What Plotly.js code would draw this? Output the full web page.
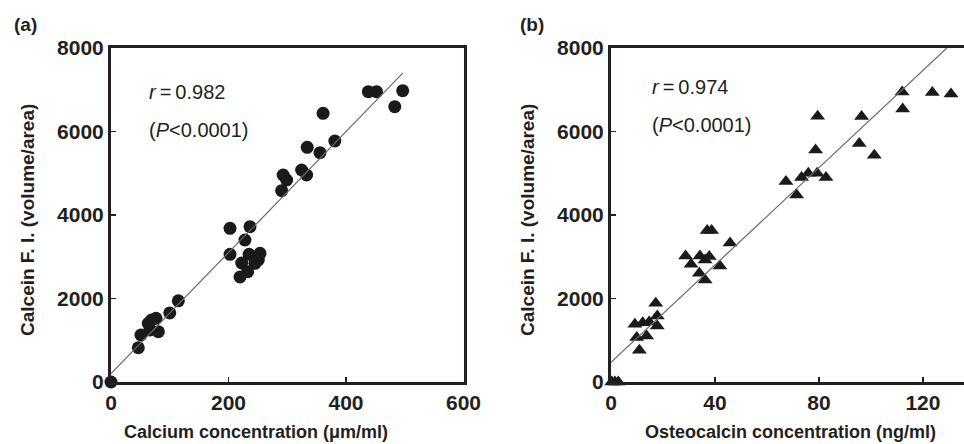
<!DOCTYPE html>
<html>
<head>
<meta charset="utf-8">
<script src="https://cdn.plot.ly/plotly-3.0.1.min.js"></script>
<style>html,body{margin:0;padding:0;background:#fff;}#chart{width:964px;height:444px;}</style>
</head>
<body>
<div id="chart"></div>
<script>
// Panel (a): calcium concentration vs calcein F.I.
const calciumX = [0, 46.5, 51, 63.5, 69, 76.6, 66.4, 80.6, 100, 114.6,
  202.6, 236.6, 228, 202.6, 235, 222.4, 253.6, 250.7, 245, 232.6, 219.6,
  290.5, 293, 299, 324.5, 333, 334, 355.7, 361, 381, 438, 452, 496.5, 483];
const calceinA = [0, 820, 1126, 1406, 1485, 1525, 1245, 1206, 1655, 1945,
  3681, 3720, 3401, 3058, 3058, 2850, 3082, 2922, 2842, 2642, 2515,
  4582, 4958, 4838, 5078, 4958, 5621, 5493, 6435, 5772, 6954, 6954, 6977, 6595];

// Panel (b): osteocalcin concentration vs calcein F.I.
const osteoX = [0.3, 1.5, 2.8, 10.9, 9.9, 13.7, 9.2, 12.2, 14.7, 17.8, 17.8, 17.2,
  28.7, 30.8, 34.2, 36.2, 37.8, 41.9, 34, 36.2, 37, 38.7, 45.8,
  67.3, 71.4, 73.3, 75.9, 79.3, 82.7, 78.7, 79.5, 95.5, 96.4, 101.3,
  112, 112.2, 123.6, 130.8];
const calceinB = [0, 0, 0, 759, 1063, 1102, 1382, 1422, 1437, 1342, 1581, 1885,
  3018, 2819, 3018, 2922, 3003, 2779, 2604, 2443, 3626, 3626, 3330,
  4800, 4479, 4896, 4999, 4999, 4896, 5557, 6364, 5710, 6357, 5430,
  6946, 6539, 6932, 6900];

// Regression lines
const fitAX = [0, 497];
const fitAY = [200, 7406];
const fitBX = [0, 129.2];
const fitBY = [472, 8000];

// Ticks
const yTicks = [0, 2000, 4000, 6000, 8000];
const xTicksA = [0, 200, 400, 600];
const xTicksB = [0, 40, 80, 120];

const FONT = 'Arial, "Liberation Sans", Helvetica, sans-serif';
const INK = '#231f20';
const W = 964, H = 444;
const px = v => v / W;
const py = v => (H - v) / H;

const traces = [
  {x: calciumX, y: calceinA, xaxis: 'x', yaxis: 'y', mode: 'markers', type: 'scatter',
   marker: {symbol: 'circle', size: 13, color: '#1a1a1a'}, cliponaxis: false, hoverinfo: 'x+y'},
  {x: fitAX, y: fitAY, xaxis: 'x', yaxis: 'y', mode: 'lines', type: 'scatter',
   line: {color: '#6a6a6a', width: 1.2}, cliponaxis: false, hoverinfo: 'skip'},
  {x: osteoX, y: calceinB, xaxis: 'x2', yaxis: 'y2', mode: 'markers', type: 'scatter',
   marker: {symbol: 'triangle-up', size: 13, color: '#1a1a1a'}, cliponaxis: false, hoverinfo: 'x+y'},
  {x: fitBX, y: fitBY, xaxis: 'x2', yaxis: 'y2', mode: 'lines', type: 'scatter',
   line: {color: '#6a6a6a', width: 1.2}, cliponaxis: false, hoverinfo: 'skip'}
];

const tickFont = {family: FONT, size: 21, color: INK, weight: 'bold'};
const baseAxis = {
  showgrid: false, zeroline: false, showline: true, linecolor: INK, linewidth: 3,
  ticks: 'inside', ticklen: 5, tickwidth: 1.5, tickcolor: INK,
  tickfont: tickFont, fixedrange: true
};

const yDomain = [py(382), py(48)];

const layout = {
  width: W, height: H,
  margin: {l: 0, r: 0, t: 0, b: 0},
  paper_bgcolor: '#fff', plot_bgcolor: '#fff',
  showlegend: false,
  font: {family: FONT, color: INK},
  xaxis: Object.assign({}, baseAxis, {domain: [px(111), px(463.5)], range: [0, 600],
    tickvals: xTicksA, ticktext: xTicksA.map(String), mirror: true, anchor: 'y'}),
  yaxis: Object.assign({}, baseAxis, {domain: yDomain, range: [0, 8000],
    tickvals: yTicks, ticktext: yTicks.map(String), mirror: true, anchor: 'x'}),
  xaxis2: Object.assign({}, baseAxis, {domain: [px(611), 1], range: [0, 135.8],
    tickvals: xTicksB, ticktext: xTicksB.map(String), mirror: true, anchor: 'y2'}),
  yaxis2: Object.assign({}, baseAxis, {domain: yDomain, range: [0, 8000],
    tickvals: yTicks, ticktext: yTicks.map(String), mirror: false, anchor: 'x2'}),
  annotations: [
    {text: '<b>(a)</b>', xref: 'paper', yref: 'paper', x: px(12), y: py(25), xanchor: 'left', yanchor: 'middle',
     showarrow: false, font: {family: FONT, size: 19, color: INK}},
    {text: '<b>(b)</b>', xref: 'paper', yref: 'paper', x: px(518), y: py(25), xanchor: 'left', yanchor: 'middle',
     showarrow: false, font: {family: FONT, size: 19, color: INK}},
    {text: '<i>r</i>\u2009=\u20090.982', xref: 'paper', yref: 'paper', x: px(147), y: py(92), xanchor: 'left', yanchor: 'middle',
     showarrow: false, font: {family: FONT, size: 20, color: INK}},
    {text: '(<i>P</i>&lt;0.0001)', xref: 'paper', yref: 'paper', x: px(147), y: py(130), xanchor: 'left', yanchor: 'middle',
     showarrow: false, font: {family: FONT, size: 20, color: INK}},
    {text: '<i>r</i>\u2009=\u20090.974', xref: 'paper', yref: 'paper', x: px(650), y: py(87), xanchor: 'left', yanchor: 'middle',
     showarrow: false, font: {family: FONT, size: 20, color: INK}},
    {text: '(<i>P</i>&lt;0.0001)', xref: 'paper', yref: 'paper', x: px(650), y: py(125), xanchor: 'left', yanchor: 'middle',
     showarrow: false, font: {family: FONT, size: 20, color: INK}},
    {text: '<b>Calcium concentration (\u03bcm/ml)</b>', xref: 'paper', yref: 'paper', x: px(256), y: py(432), xanchor: 'center', yanchor: 'middle',
     showarrow: false, font: {family: FONT, size: 18, color: INK}},
    {text: '<b>Osteocalcin concentration (ng/ml)</b>', xref: 'paper', yref: 'paper', x: px(790), y: py(432), xanchor: 'center', yanchor: 'middle',
     showarrow: false, font: {family: FONT, size: 18, color: INK}},
    {text: '<b>Calcein F. I. (volume/area)</b>', xref: 'paper', yref: 'paper', x: px(27), y: py(220), xanchor: 'center', yanchor: 'middle',
     textangle: -90, showarrow: false, font: {family: FONT, size: 19, color: INK}},
    {text: '<b>Calcein F. I. (volume/area)</b>', xref: 'paper', yref: 'paper', x: px(527), y: py(220), xanchor: 'center', yanchor: 'middle',
     textangle: -90, showarrow: false, font: {family: FONT, size: 19, color: INK}}
  ]
};

Plotly.newPlot('chart', traces, layout, {staticPlot: true, displayModeBar: false});
</script>
</body>
</html>
